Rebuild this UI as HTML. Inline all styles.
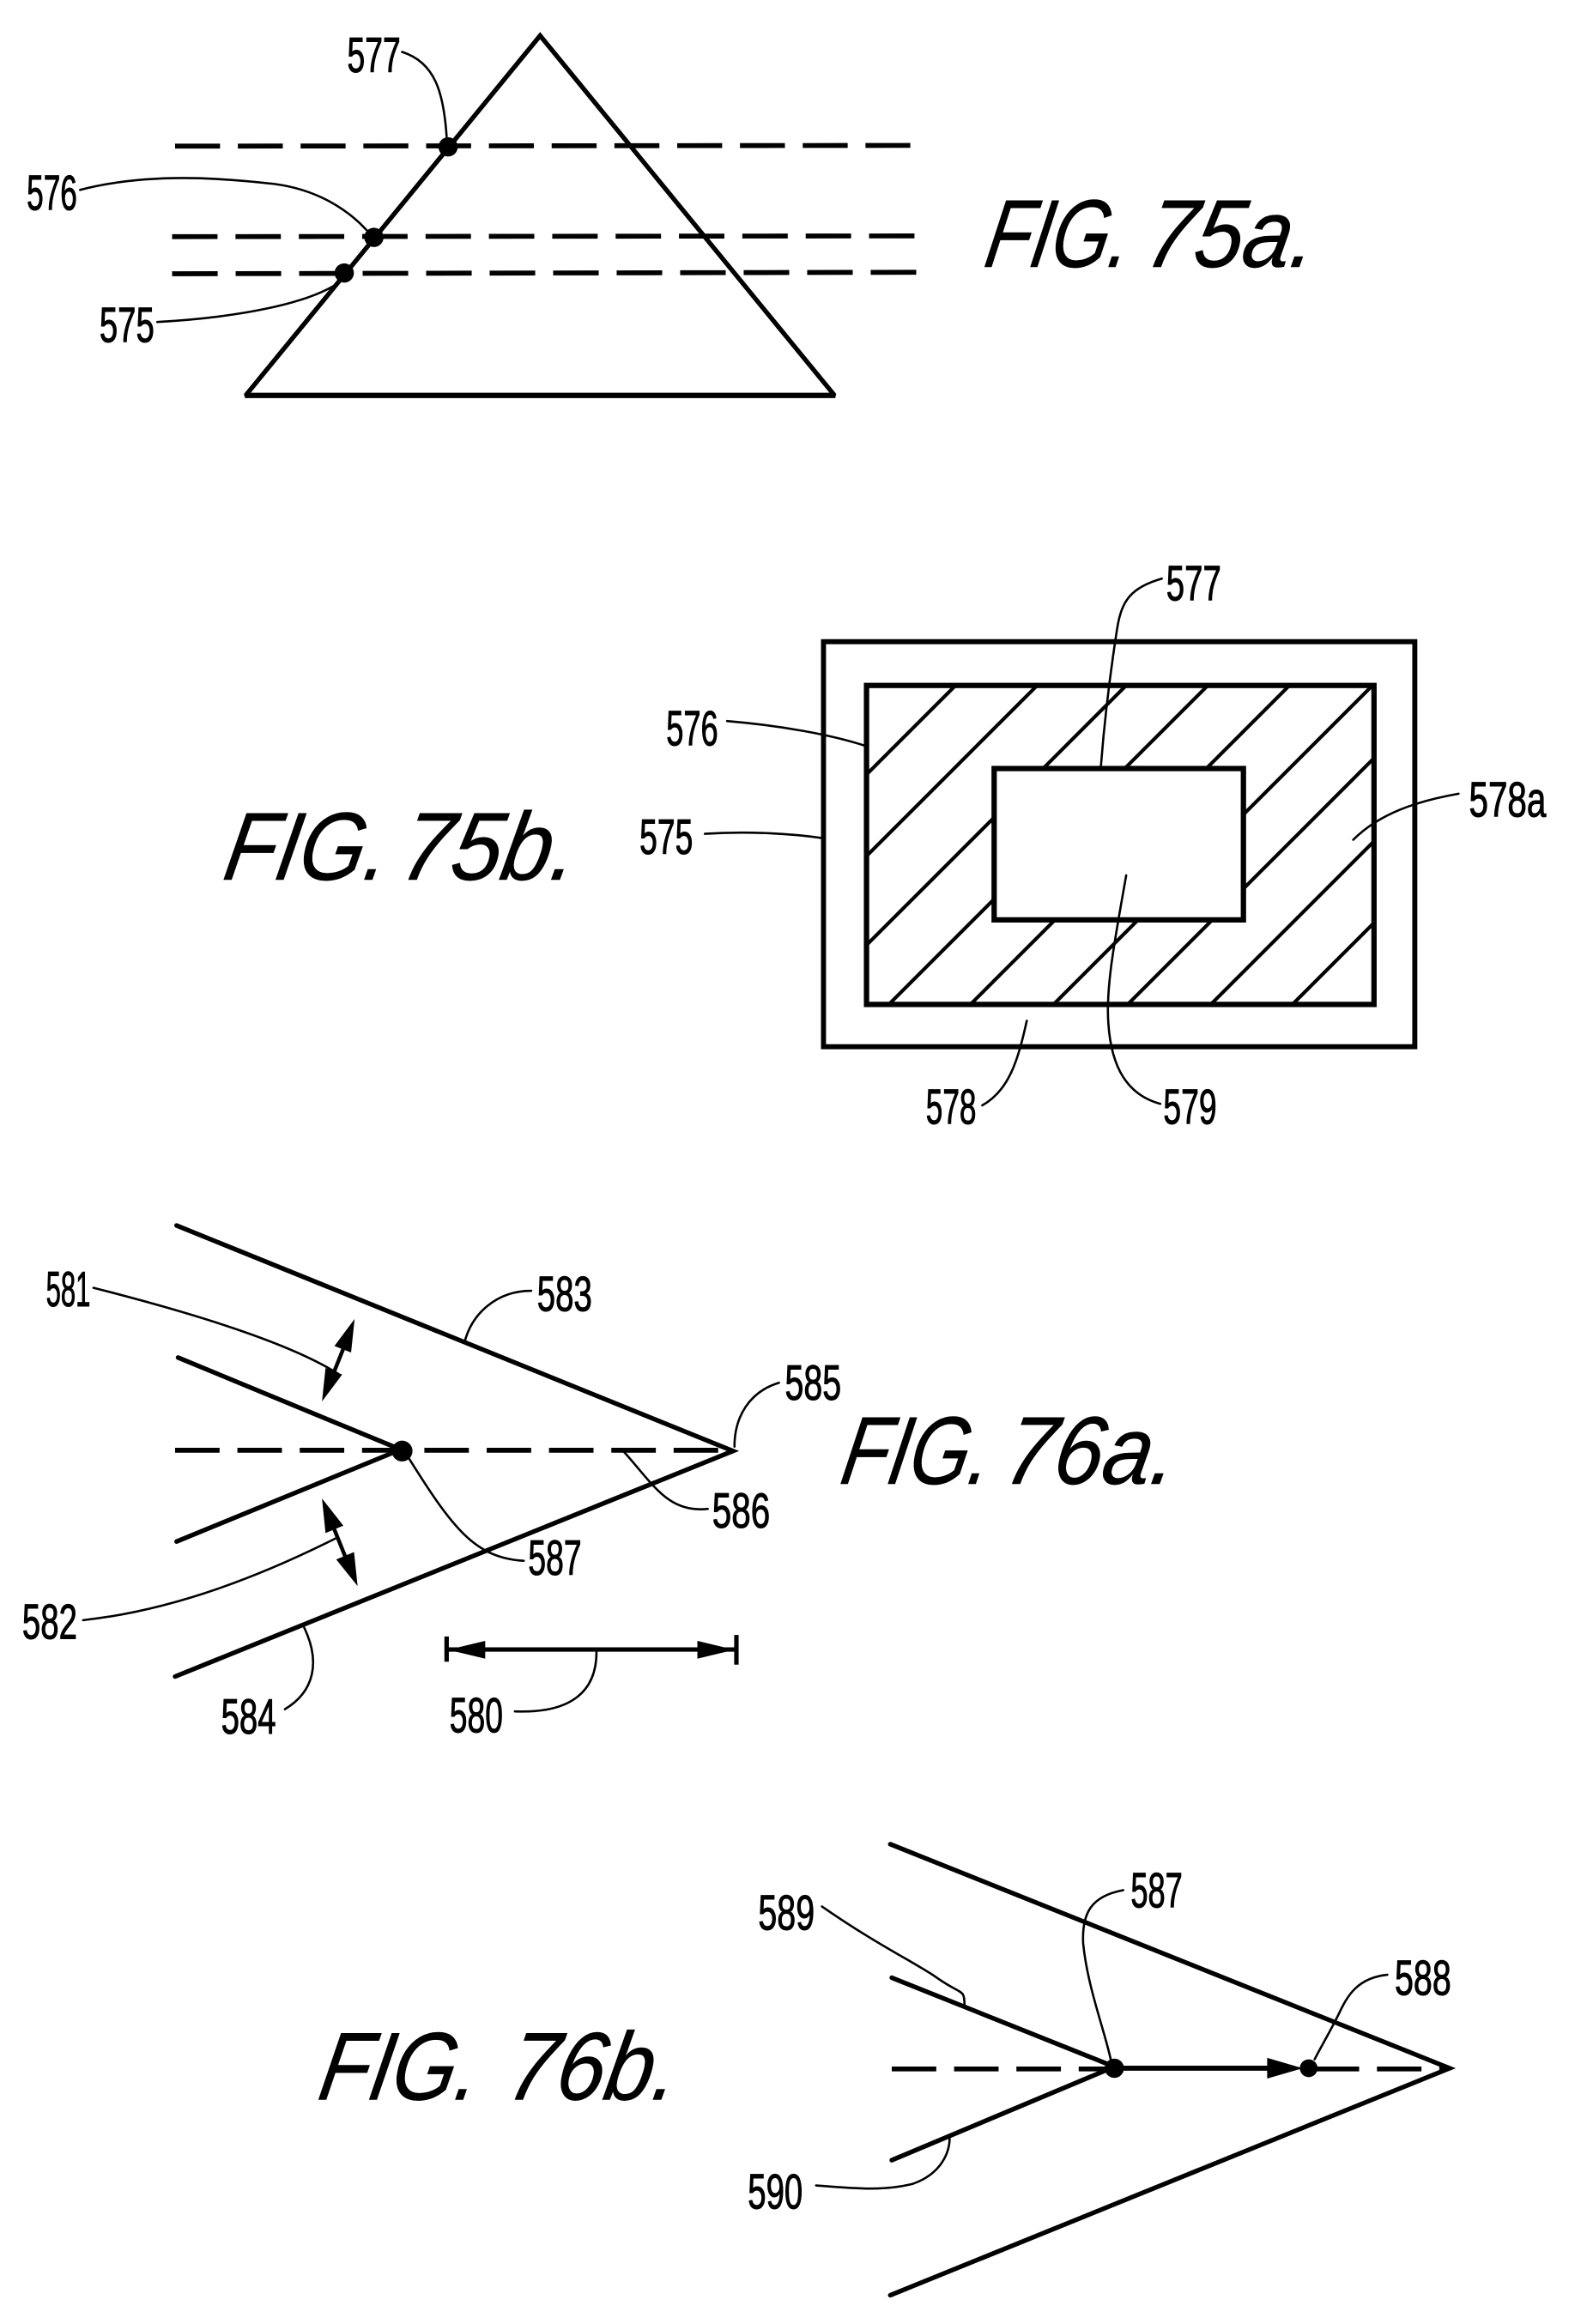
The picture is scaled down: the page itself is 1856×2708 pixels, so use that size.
<!DOCTYPE html>
<html lang="en">
<head>
<meta charset="utf-8">
<title>FIG. 75a-76b</title>
<style>
html,body{margin:0;padding:0;background:#fff;width:1856px;height:2708px;overflow:hidden}
svg{display:block}
text{font-family:"Liberation Sans",sans-serif;fill:#000;stroke:#000;stroke-width:.6}
.n{font-size:33px;transform:translateY(-1.500px)}
.f{font-size:65px;font-style:italic;stroke-width:.3}
.l{fill:none;stroke:#000;stroke-width:3.1;stroke-linecap:round;stroke-linejoin:miter}
.t{fill:none;stroke:#000;stroke-width:1.5;stroke-linecap:round}
.d{fill:none;stroke:#000;stroke-width:3.3;stroke-dasharray:30 12}
.h{stroke:#000;stroke-width:2.4;fill:none}
</style>
</head>
<body>
<svg xmlns="http://www.w3.org/2000/svg" width="1856" height="2708" viewBox="0 0 1073.6 1566.4" preserveAspectRatio="none">
<defs><clipPath id="c"><rect x="584" y="462" width="342" height="215"/></clipPath></defs>
<rect width="1074" height="1567" fill="#fff"/>

<!-- FIG 75a -->
<path class="l" d="M166 266 L364 24 L562 266"/>
<line x1="165" y1="266.5" x2="563" y2="266.5" stroke="#000" stroke-width="3.6"/>
<line class="d" x1="118" y1="98.5" x2="613.500" y2="98" style="stroke-dasharray:30.300 12"/>
<line class="d" x1="116" y1="159.5" x2="616.500" y2="159" style="stroke-dasharray:30.600 12.100"/>
<line class="d" x1="116" y1="184.5" x2="617.500" y2="183.5" style="stroke-dasharray:30.700 12.100"/>
<circle cx="302" cy="99" r="6.5"/><circle cx="252" cy="160" r="6.5"/><circle cx="232" cy="184" r="6.5"/>
<path class="t" d="M271 35 C293 42 299 62 301 92"/>
<path class="t" d="M54 128 C100 116 150 120 185 124 C215 128 235 142 247 155"/>
<path class="t" d="M106 217 C160 214 205 205 226 192"/>
<text class="n" x="234" y="50" textLength="36" lengthAdjust="spacingAndGlyphs">577</text>
<text class="n" x="18" y="143" textLength="34" lengthAdjust="spacingAndGlyphs">576</text>
<text class="n" x="67" y="232" textLength="37" lengthAdjust="spacingAndGlyphs">575</text>
<text class="f" transform="translate(662 180) skewX(-10)" textLength="97" lengthAdjust="spacingAndGlyphs">FIG.</text>
<text class="f" transform="translate(770 180) skewX(-10)" textLength="114" lengthAdjust="spacingAndGlyphs">75a.</text>

<!-- FIG 75b -->
<rect x="555" y="432.500" width="398.500" height="273" fill="none" stroke="#000" stroke-width="3.4"/>
<g clip-path="url(#c)">
<line class="h" x1="706" y1="400" x2="506" y2="600"/>
<line class="h" x1="761" y1="400" x2="461" y2="700"/>
<line class="h" x1="821" y1="400" x2="421" y2="800"/>
<line class="h" x1="876" y1="400" x2="476" y2="800"/>
<line class="h" x1="931" y1="400" x2="531" y2="800"/>
<line class="h" x1="987" y1="400" x2="587" y2="800"/>
<line class="h" x1="1037" y1="400" x2="637" y2="800"/>
<line class="h" x1="1093" y1="400" x2="693" y2="800"/>
<line class="h" x1="1148" y1="400" x2="748" y2="800"/>
</g>
<rect x="584" y="462" width="342" height="215" fill="none" stroke="#000" stroke-width="3.6"/>
<rect x="670" y="518" width="168" height="102" fill="#fff" stroke="#000" stroke-width="3.6"/>
<path class="t" d="M783 390 C762 396 756 405 753 423 C748 455 744 490 742 516"/>
<path class="t" d="M490 486 C525 489 560 495 584 503"/>
<path class="t" d="M475 562 C505 560 535 562 555 565"/>
<path class="t" d="M983 535 C955 540 930 548 912 566"/>
<path class="t" d="M662 745 C680 735 686 715 692 688"/>
<path class="t" d="M759 590 C752 630 745 665 747 690 C749 720 760 738 782 744"/>
<text class="n" x="786" y="406" textLength="37" lengthAdjust="spacingAndGlyphs">577</text>
<text class="n" x="449" y="504" textLength="35" lengthAdjust="spacingAndGlyphs">576</text>
<text class="n" x="431" y="577" textLength="36" lengthAdjust="spacingAndGlyphs">575</text>
<text class="n" x="990" y="552" textLength="52" lengthAdjust="spacingAndGlyphs">578a</text>
<text class="n" x="624" y="759" textLength="34" lengthAdjust="spacingAndGlyphs">578</text>
<text class="n" x="784" y="759" textLength="36" lengthAdjust="spacingAndGlyphs">579</text>
<text class="f" transform="translate(149 593) skewX(-10)" textLength="110" lengthAdjust="spacingAndGlyphs">FIG.</text>
<text class="f" transform="translate(268 593) skewX(-10)" textLength="118" lengthAdjust="spacingAndGlyphs">75b.</text>

<!-- FIG 76a -->
<path class="l" d="M119 826 L494 978 L118 1130"/>
<path class="l" d="M120 915 L270 977 L119 1039"/>
<line class="d" x1="118" y1="977.500" x2="490" y2="977.500"/>
<circle cx="271" cy="978" r="7"/>
<!-- double arrows -->
<line x1="233" y1="905" x2="223" y2="930" stroke="#000" stroke-width="2.6"/>
<polygon points="239,889 236.600,911.600 225.400,907.200"/>
<polygon points="217,944.600 230.600,926.400 219.400,922"/>
<line x1="225" y1="1030" x2="233" y2="1050" stroke="#000" stroke-width="2.6"/>
<polygon points="217,1010 231.400,1028.300 219.400,1033.300"/>
<polygon points="241,1069 238.600,1046.100 226.600,1051.100"/>
<!-- dimension -->
<line x1="301" y1="1111.800" x2="496" y2="1111.800" stroke="#000" stroke-width="3"/>
<line x1="301" y1="1103" x2="301" y2="1120" stroke="#000" stroke-width="3"/>
<line x1="496.300" y1="1102" x2="496.300" y2="1122" stroke="#000" stroke-width="3"/>
<polygon points="302,1112 327,1106 327,1118"/>
<polygon points="495,1112 470,1106 470,1118"/>
<!-- leaders -->
<path class="t" d="M63 868 C130 885 195 905 228 926"/>
<path class="t" d="M56 1092 C120 1085 180 1060 226 1037"/>
<path class="t" d="M358 870 C335 870 318 885 313 905"/>
<path class="t" d="M525 932 C505 938 495 955 495 975"/>
<path class="t" d="M477 1017 C450 1020 440 1000 420 978"/>
<path class="t" d="M353 1052 C320 1050 305 1030 275 982"/>
<path class="t" d="M192 1152 C212 1140 216 1120 205 1097"/>
<path class="t" d="M347 1153.500 C385 1155 402 1140 402 1113.500"/>
<text class="n" x="31" y="882" textLength="30" lengthAdjust="spacingAndGlyphs">581</text>
<text class="n" x="362" y="885" textLength="37" lengthAdjust="spacingAndGlyphs">583</text>
<text class="n" x="529" y="945" textLength="38" lengthAdjust="spacingAndGlyphs">585</text>
<text class="n" x="480" y="1031" textLength="39" lengthAdjust="spacingAndGlyphs">586</text>
<text class="n" x="356" y="1063" textLength="36" lengthAdjust="spacingAndGlyphs">587</text>
<text class="n" x="15" y="1106" textLength="37" lengthAdjust="spacingAndGlyphs">582</text>
<text class="n" x="149" y="1170" textLength="37" lengthAdjust="spacingAndGlyphs">584</text>
<text class="n" x="303" y="1169" textLength="36" lengthAdjust="spacingAndGlyphs">580</text>
<text class="f" transform="translate(565 1000) skewX(-10)" textLength="100" lengthAdjust="spacingAndGlyphs">FIG.</text>
<text class="f" transform="translate(675 1000) skewX(-10)" textLength="115" lengthAdjust="spacingAndGlyphs">76a.</text>

<!-- FIG 76b -->
<path class="l" d="M600 1243 L977 1394 L600 1547"/>
<path class="l" d="M601 1333 L751 1393 L601 1456"/>
<line class="d" x1="601" y1="1394.500" x2="745" y2="1394.500" stroke-dasharray="33 10"/>
<line x1="751" y1="1394" x2="860" y2="1394" stroke="#000" stroke-width="3.4"/>
<polygon points="878,1394 854,1387 854,1401"/>
<circle cx="751" cy="1394" r="6.500"/>
<circle cx="882" cy="1394" r="6"/>
<line class="d" x1="886" y1="1394.500" x2="975" y2="1394.500" stroke-dasharray="24 6"/>
<path class="t" d="M554 1285 C590 1310 615 1322 630 1332 C648 1345 650 1340 650 1351"/>
<path class="t" d="M757 1274 C735 1278 729 1290 730 1310 C733 1340 745 1370 749 1390"/>
<path class="t" d="M935 1331 C915 1333 908 1345 902 1358 C895 1372 890 1380 886 1388"/>
<path class="t" d="M550 1473 C575 1475 595 1477 615 1472 C635 1465 640 1450 640 1441"/>
<text class="n" x="511" y="1302" textLength="38" lengthAdjust="spacingAndGlyphs">589</text>
<text class="n" x="762" y="1287" textLength="35" lengthAdjust="spacingAndGlyphs">587</text>
<text class="n" x="940" y="1346" textLength="38" lengthAdjust="spacingAndGlyphs">588</text>
<text class="n" x="504" y="1490" textLength="37" lengthAdjust="spacingAndGlyphs">590</text>
<text class="f" transform="translate(213 1415) skewX(-10)" textLength="107" lengthAdjust="spacingAndGlyphs">FIG.</text>
<text class="f" transform="translate(340 1415) skewX(-10)" textLength="114" lengthAdjust="spacingAndGlyphs">76b.</text>
</svg>
</body>
</html>
